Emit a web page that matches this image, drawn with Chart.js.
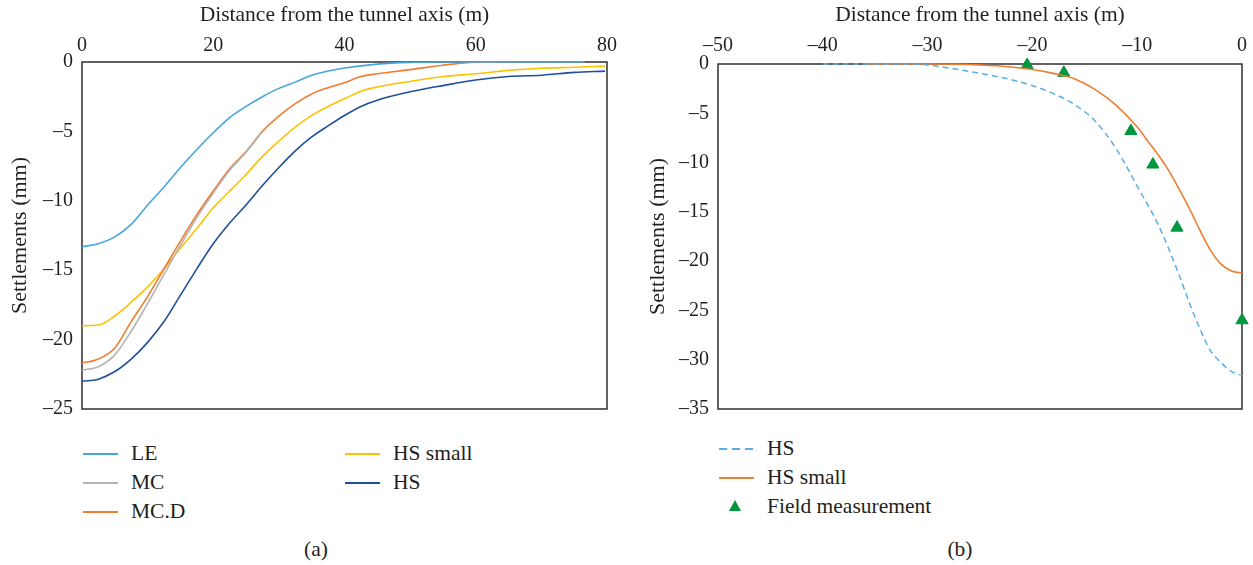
<!DOCTYPE html>
<html>
<head>
<meta charset="utf-8">
<script src="https://cdn.jsdelivr.net/npm/chart.js@4.4.1/dist/chart.umd.min.js"></script>
<style>
  body { margin: 0; background: #fff; font-family: "Liberation Serif", serif; color: #231f20; }
  #wrap { position: relative; width: 1253px; height: 565px; overflow: hidden; }
  .box { position: absolute; top: 0; height: 430px; }
  .leg { position: absolute; font-size: 21.5px; line-height: 1; white-space: nowrap; }
  .leg span.s { position: absolute; }
  .leg span.t { position: absolute; transform: translateY(-50%); }
  .cap { position: absolute; font-size: 21.5px; transform: translate(-50%, -50%); }
</style>
</head>
<body>
<div id="wrap">
  <div class="box" style="left:0;width:630px"><canvas id="chartA" width="630" height="430"></canvas></div>
  <div class="box" style="left:630px;width:623px"><canvas id="chartB" width="623" height="430"></canvas></div>
  <div id="legA"></div>
  <div id="legB"></div>
  <div class="cap" style="left:316px;top:549px">(a)</div>
  <div class="cap" style="left:960px;top:549px">(b)</div>
</div>
<script>
// (a) settlement curves for the different soil models
const leX = [0, 2.5, 5, 7.5, 10, 12.5, 15, 17.5, 20, 22.5, 25, 27.5, 30, 32.5, 35, 37.5, 40, 45, 50, 55, 60, 70, 76.6];
const leY = [-13.3, -13.1, -12.6, -11.7, -10.3, -9.0, -7.6, -6.3, -5.1, -4.0, -3.2, -2.5, -1.9, -1.45, -0.95, -0.65, -0.43, -0.15, -0.03, 0, 0, 0, 0];

// MC runs under MC.D past ~25 m, so only its visible part is listed
const mcX = [0, 2.5, 5, 7.5, 10, 12.5, 15, 17.5, 20, 22.5, 25, 27.5];
const mcY = [-22.2, -21.95, -21.1, -19.4, -17.4, -15.3, -13.2, -11.2, -9.45, -7.8, -6.5, -5.0];

const mcdX = [0, 2.5, 5, 7.5, 10, 12.5, 15, 17.5, 20, 22.5, 25, 27.5, 30, 32.5, 35, 37.5, 40, 42.5, 45, 50, 55, 60, 65, 76.6];
const mcdY = [-21.7, -21.4, -20.6, -18.7, -16.9, -14.9, -12.9, -11.0, -9.3, -7.7, -6.45, -5.0, -3.9, -3.0, -2.3, -1.85, -1.5, -1.05, -0.85, -0.55, -0.23, -0.02, 0, 0];

const hssX = [0, 2.5, 5, 7.5, 10, 12.5, 15, 17.5, 20, 22.5, 25, 27.5, 30, 32.5, 35, 37.5, 40, 42.5, 45, 50, 55, 60, 65, 70, 75, 79.7];
const hssY = [-19.0, -18.95, -18.3, -17.3, -16.2, -14.9, -13.4, -12.0, -10.5, -9.3, -8.1, -6.8, -5.7, -4.7, -3.85, -3.2, -2.65, -2.1, -1.8, -1.4, -1.05, -0.85, -0.6, -0.45, -0.38, -0.3];

const hsX = [0, 2.5, 5, 7.5, 10, 12.5, 15, 17.5, 20, 22.5, 25, 27.5, 30, 32.5, 35, 37.5, 40, 42.5, 45, 50, 55, 60, 65, 70, 75, 79.7];
const hsY = [-23.0, -22.85, -22.3, -21.4, -20.2, -18.7, -16.8, -14.9, -13.1, -11.6, -10.3, -8.9, -7.6, -6.4, -5.4, -4.6, -3.85, -3.2, -2.75, -2.15, -1.7, -1.3, -1.05, -0.95, -0.75, -0.66];

// (b) HS vs HS small against the field data
const bHsX = [-40, -35, -32, -30, -28, -25, -22, -20, -18, -16, -14, -12, -10, -8, -6, -5, -4, -3, -2, -1, 0];
const bHsY = [0, 0, 0, -0.1, -0.4, -0.95, -1.6, -2.2, -3.0, -4.1, -5.8, -8.6, -12.4, -16.3, -21.4, -24.3, -26.9, -29.1, -30.3, -31.2, -31.6];

const bHssX = [-35.7, -30, -25, -22, -20, -18, -16, -14, -12, -10, -9, -8, -7, -6, -5, -4, -3, -2, -1, 0];
const bHssY = [0, 0, -0.1, -0.3, -0.55, -0.95, -1.5, -2.6, -4.2, -6.4, -7.8, -9.2, -10.8, -12.7, -14.7, -16.9, -18.9, -20.3, -21.0, -21.2];

const fieldX = [-20.5, -17.0, -10.6, -8.5, -6.2, 0];
const fieldY = [-0.1, -0.9, -6.8, -10.2, -16.6, -26.0];

const xTitle = 'Distance from the tunnel axis (m)';
const yTitle = 'Settlements (mm)';
const ink = '#231f20';
const serif = '"Liberation Serif", serif';

const pts = (xs, ys) => xs.map((x, i) => ({ x: x, y: ys[i] }));
const minus = v => String(v).replace('-', '\u2013');

// frame around the plot area, drawn under the lines
const frame = {
  id: 'frame',
  beforeDatasetsDraw(chart) {
    const a = chart.chartArea, ctx = chart.ctx;
    ctx.save();
    ctx.strokeStyle = ink;
    ctx.lineWidth = 1.4;
    ctx.strokeRect(a.left, a.top, a.right - a.left, a.bottom - a.top);
    ctx.restore();
  }
};

function line(label, data, color, extra) {
  return Object.assign({
    label: label, data: data, borderColor: color, backgroundColor: color,
    borderWidth: 1.6, pointRadius: 0, fill: false, clip: false,
    cubicInterpolationMode: 'monotone', showLine: true
  }, extra || {});
}

function axes(xr, xStep, yr, xH, yW, yTitlePad, xTickPad) {
  const tickFont = { family: serif, size: 20 };
  return {
    x: {
      type: 'linear', position: 'top', min: xr[0], max: xr[1],
      ticks: { stepSize: xStep, color: ink, font: tickFont, padding: xTickPad, maxRotation: 0, callback: minus },
      grid: { display: false, drawTicks: false },
      border: { display: false },
      title: { display: true, text: xTitle, color: ink, font: { family: serif, size: 21.5 }, padding: { top: 2, bottom: 0 } },
      afterFit: s => { s.height = xH; }
    },
    y: {
      type: 'linear', min: yr[0], max: yr[1],
      ticks: { stepSize: 5, color: ink, font: tickFont, padding: 9, callback: minus },
      grid: { display: false, drawTicks: false },
      border: { display: false },
      title: { display: true, text: yTitle, color: ink, font: { family: serif, size: 22 }, padding: { top: yTitlePad, bottom: 0 } },
      afterFit: s => { s.width = yW; }
    }
  };
}

new Chart(document.getElementById('chartA'), {
  type: 'scatter',
  data: {
    datasets: [
      line('LE', pts(leX, leY), '#45a6de'),
      line('MC', pts(mcX, mcY), '#b4b4b4'),
      line('MC.D', pts(mcdX, mcdY), '#ed7d31'),
      line('HS small', pts(hssX, hssY), '#ffc000'),
      line('HS', pts(hsX, hsY), '#1f4f9a')
    ]
  },
  options: {
    responsive: false, animation: false,
    layout: { padding: { left: 0, top: 0, right: 23, bottom: 12 } },
    plugins: { legend: { display: false }, tooltip: { enabled: false } },
    scales: axes([0, 80], 20, [-25, 0], 62, 82, 7, 4)
  },
  plugins: [frame]
});

new Chart(document.getElementById('chartB'), {
  type: 'scatter',
  data: {
    datasets: [
      line('HS', pts(bHsX, bHsY), '#5aaee6', { borderDash: [6, 4], borderWidth: 1.5 }),
      line('HS small', pts(bHssX, bHssY), '#ed7d31'),
      {
        label: 'Field measurement', data: pts(fieldX, fieldY), showLine: false, clip: false,
        pointStyle: 'triangle', pointRadius: 7, pointBackgroundColor: '#00953f',
        pointBorderColor: '#00953f', pointBorderWidth: 1
      }
    ]
  },
  options: {
    responsive: false, animation: false,
    layout: { padding: { left: 0, top: 0, right: 11, bottom: 18 } },
    plugins: { legend: { display: false }, tooltip: { enabled: false } },
    scales: axes([-50, 0], 10, [-35, 0], 64, 88, 15, 6)
  },
  plugins: [frame]
});

// legends under each panel
function legendRow(parent, x, y, text, swatch) {
  const row = document.createElement('div');
  row.className = 'leg';
  row.style.left = x + 'px';
  row.style.top = y + 'px';
  row.innerHTML = swatch + '<span class="t" style="left:48px;top:0">' + text + '</span>';
  parent.appendChild(row);
}
const solid = c => '<span class="s" style="left:0;top:-1px;width:35px;height:2px;background:' + c + '"></span>';
const dashed = c => '<span class="s" style="left:0;top:-1px;width:35px;height:2px;background:repeating-linear-gradient(90deg,' + c + ' 0 8px,transparent 8px 13px)"></span>';
const tri = c => '<span class="s" style="left:10px;top:-7px;width:0;height:0;border-left:6px solid transparent;border-right:6px solid transparent;border-bottom:11px solid ' + c + '"></span>';

const legA = document.getElementById('legA');
legendRow(legA, 83, 454, 'LE', solid('#45a6de'));
legendRow(legA, 83, 483, 'MC', solid('#b4b4b4'));
legendRow(legA, 83, 512, 'MC.D', solid('#ed7d31'));
legendRow(legA, 345, 454, 'HS small', solid('#ffc000'));
legendRow(legA, 345, 483, 'HS', solid('#1f4f9a'));

const legB = document.getElementById('legB');
legendRow(legB, 719, 449, 'HS', dashed('#5aaee6'));
legendRow(legB, 719, 478, 'HS small', solid('#ed7d31'));
legendRow(legB, 719, 507, 'Field measurement', tri('#00953f'));
</script>
</body>
</html>
